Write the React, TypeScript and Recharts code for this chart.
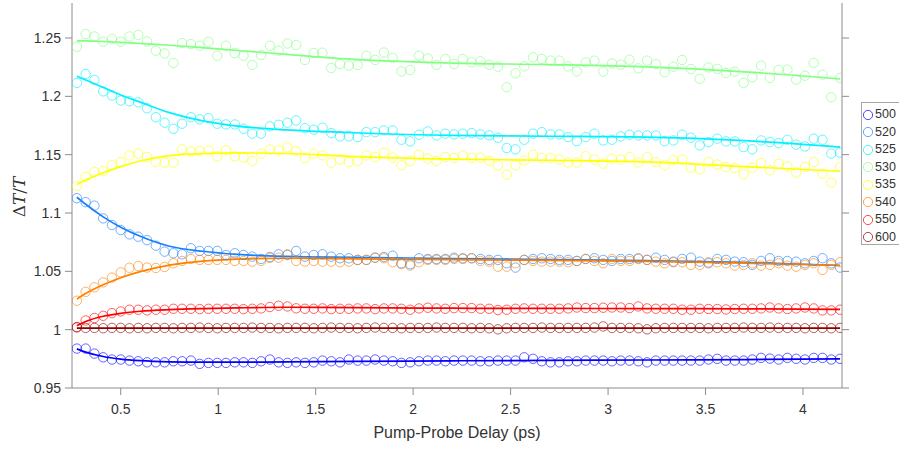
import React from 'react';
import { ComposedChart, Scatter, Line, XAxis, YAxis, Legend, Label } from 'recharts';

// Pump-probe delays (ps)
const delays = [
  0.275, 0.32, 0.365, 0.41, 0.455, 0.5, 0.545, 0.59, 0.635, 0.68,
  0.725, 0.77, 0.815, 0.86, 0.905, 0.95, 0.995, 1.04, 1.085, 1.13,
  1.175, 1.22, 1.265, 1.31, 1.355, 1.4, 1.445, 1.49, 1.535, 1.58,
  1.625, 1.67, 1.715, 1.76, 1.805, 1.85, 1.895, 1.94, 1.985, 2.03,
  2.075, 2.12, 2.165, 2.21, 2.255, 2.3, 2.345, 2.39, 2.435, 2.48,
  2.525, 2.57, 2.615, 2.66, 2.705, 2.75, 2.795, 2.84, 2.885, 2.93,
  2.975, 3.02, 3.065, 3.11, 3.155, 3.2, 3.245, 3.29, 3.335, 3.38,
  3.425, 3.47, 3.515, 3.56, 3.605, 3.65, 3.695, 3.74, 3.785, 3.83,
  3.875, 3.92, 3.965, 4.01, 4.055, 4.1, 4.145, 4.19,
];

const fitTimes = [0.275, 0.32, 0.41, 0.5, 0.6, 0.75, 0.92, 1.1, 1.35, 1.7, 2.2, 2.7, 3.2, 3.7, 4.19];

const d500 = [
  0.9838, 0.9838, 0.9795, 0.9763, 0.9744, 0.9744, 0.9735, 0.9729, 0.972, 0.972,
  0.972, 0.9729, 0.9729, 0.9735, 0.9707, 0.9715, 0.9715, 0.9715, 0.972, 0.972,
  0.9715, 0.9729, 0.9744, 0.972, 0.9715, 0.972, 0.9715, 0.972, 0.9735, 0.9729,
  0.972, 0.9744, 0.9735, 0.9735, 0.9744, 0.9735, 0.9729, 0.9715, 0.972, 0.9729,
  0.9735, 0.9735, 0.9729, 0.9735, 0.9735, 0.9735, 0.9729, 0.9729, 0.9735, 0.9735,
  0.9735, 0.9763, 0.975, 0.9729, 0.972, 0.972, 0.9729, 0.9729, 0.9735, 0.9735,
  0.9735, 0.9729, 0.9735, 0.9735, 0.9729, 0.972, 0.9735, 0.9735, 0.9735, 0.9735,
  0.9735, 0.9735, 0.9744, 0.975, 0.9735, 0.9735, 0.9735, 0.9744, 0.9758, 0.9752,
  0.9744, 0.9758, 0.975, 0.9744, 0.9758, 0.9758, 0.9744, 0.975,
];
const d520 = [
  1.1127, 1.1093, 1.1063, 1.0954, 1.0897, 1.0854, 1.0817, 1.0797, 1.0768, 1.072,
  1.0669, 1.0655, 1.0646, 1.0698, 1.0675, 1.0675, 1.0675, 1.064, 1.0655, 1.064,
  1.0626, 1.0606, 1.0623, 1.0646, 1.064, 1.0675, 1.0626, 1.064, 1.0646, 1.0626,
  1.0612, 1.0612, 1.0598, 1.0598, 1.0617, 1.0623, 1.0634, 1.0569, 1.0561, 1.0612,
  1.0606, 1.0606, 1.0606, 1.0617, 1.0612, 1.0612, 1.0606, 1.0598, 1.0598, 1.0569,
  1.0532, 1.0598, 1.0606, 1.0612, 1.0606, 1.0598, 1.0598, 1.0589, 1.0606, 1.0612,
  1.0598, 1.0589, 1.0606, 1.0606, 1.0612, 1.0598, 1.0617, 1.0598, 1.0583, 1.0606,
  1.0617, 1.0583, 1.0569, 1.0606, 1.0598, 1.0583, 1.0578, 1.0555, 1.0589, 1.0612,
  1.0589, 1.0589, 1.0583, 1.0569, 1.0589, 1.0612, 1.0569, 1.0532,
];
const d525 = [
  1.2115, 1.2192, 1.2141, 1.2043, 1.2007, 1.1964, 1.1958, 1.1949, 1.1898, 1.1821,
  1.1774, 1.1722, 1.1765, 1.1821, 1.1802, 1.1813, 1.1765, 1.1759, 1.1759, 1.1722,
  1.168, 1.168, 1.1742, 1.1756, 1.1774, 1.1793, 1.1727, 1.1714, 1.1731, 1.1685,
  1.1657, 1.1657, 1.1651, 1.1693, 1.1693, 1.1708, 1.1708, 1.1628, 1.1614, 1.1671,
  1.1699, 1.1665, 1.168, 1.1674, 1.168, 1.1685, 1.1674, 1.1665, 1.1645, 1.1557,
  1.1546, 1.1628, 1.168, 1.1693, 1.1674, 1.1674, 1.1651, 1.1616, 1.1651, 1.168,
  1.1622, 1.1628, 1.1657, 1.1671, 1.1665, 1.1665, 1.1665, 1.1616, 1.1622, 1.1671,
  1.1645, 1.158, 1.1608, 1.1637, 1.1614, 1.1614, 1.1565, 1.1546, 1.1622, 1.1608,
  1.1599, 1.1628, 1.1586, 1.1571, 1.1637, 1.1628, 1.1509, 1.1517,
];
const d530 = [
  1.2425, 1.2534, 1.2513, 1.2468, 1.2491, 1.2468, 1.2513, 1.2525, 1.247, 1.2391,
  1.2368, 1.2286, 1.2457, 1.2448, 1.2434, 1.2468, 1.2348, 1.2434, 1.2371, 1.2348,
  1.2269, 1.2354, 1.2434, 1.2391, 1.2453, 1.244, 1.2312, 1.2371, 1.2374, 1.2243,
  1.2277, 1.2263, 1.2269, 1.2348, 1.2312, 1.2376, 1.2329, 1.2214, 1.2226, 1.2348,
  1.2325, 1.2269, 1.232, 1.2277, 1.232, 1.2291, 1.23, 1.2271, 1.2254, 1.2078,
  1.2197, 1.2257, 1.2334, 1.232, 1.2306, 1.2306, 1.2257, 1.2214, 1.2291, 1.2306,
  1.2212, 1.2283, 1.2271, 1.2314, 1.224, 1.2306, 1.2277, 1.2206, 1.2254, 1.2312,
  1.2235, 1.2149, 1.2248, 1.2235, 1.2201, 1.2212, 1.2115, 1.2163, 1.2263, 1.2158,
  1.2226, 1.2229, 1.2143, 1.2177, 1.2286, 1.2186, 1.1992, 1.2158,
];
const d535 = [
  1.1232, 1.1309, 1.1352, 1.136, 1.1409, 1.1437, 1.1494, 1.1509, 1.148, 1.1437,
  1.1432, 1.1432, 1.1546, 1.1528, 1.1531, 1.1537, 1.1486, 1.1537, 1.1486, 1.1475,
  1.1446, 1.1509, 1.1543, 1.1537, 1.1565, 1.1531, 1.1471, 1.1509, 1.1494, 1.1432,
  1.1458, 1.1437, 1.1446, 1.1494, 1.148, 1.1517, 1.1475, 1.1409, 1.1446, 1.15,
  1.1466, 1.1446, 1.148, 1.1471, 1.1494, 1.1471, 1.1475, 1.1446, 1.1409, 1.1329,
  1.1409, 1.1452, 1.15, 1.1471, 1.1471, 1.1458, 1.1432, 1.1432, 1.1486, 1.1458,
  1.1423, 1.1466, 1.1458, 1.148, 1.1432, 1.148, 1.1437, 1.1409, 1.1452, 1.1458,
  1.1389, 1.1372, 1.1437, 1.1415, 1.1394, 1.1386, 1.1332, 1.1389, 1.1429, 1.1366,
  1.1423, 1.14, 1.1347, 1.1394, 1.1437, 1.1338, 1.1261, 1.1394,
];
const d540 = [
  1.0248, 1.0324, 1.0363, 1.0405, 1.0446, 1.0491, 1.0531, 1.0546, 1.0532, 1.0529,
  1.0538, 1.0569, 1.0589, 1.0606, 1.0598, 1.0598, 1.0598, 1.0598, 1.0589, 1.0589,
  1.0583, 1.0589, 1.0615, 1.0617, 1.0646, 1.0589, 1.0583, 1.0589, 1.0583, 1.0583,
  1.0578, 1.0583, 1.0598, 1.0598, 1.0617, 1.0612, 1.0578, 1.0561, 1.0549, 1.0578,
  1.0598, 1.0598, 1.0598, 1.0606, 1.0606, 1.0612, 1.0589, 1.0583, 1.054, 1.054,
  1.0569, 1.0598, 1.0589, 1.0583, 1.0583, 1.0583, 1.0578, 1.0589, 1.0606, 1.0589,
  1.0569, 1.0606, 1.0589, 1.0589, 1.0606, 1.0598, 1.0583, 1.0569, 1.0578, 1.0578,
  1.0555, 1.0555, 1.0578, 1.0578, 1.0569, 1.0549, 1.0555, 1.0569, 1.0549, 1.0555,
  1.0569, 1.0549, 1.054, 1.0555, 1.0569, 1.0512, 1.0555, 1.0578,
];
const d550 = [
  1.0023, 1.0079, 1.01, 1.0119, 1.0142, 1.0156, 1.0171, 1.0171, 1.0165, 1.0171,
  1.0171, 1.0179, 1.0179, 1.0179, 1.0176, 1.0179, 1.0179, 1.0179, 1.0179, 1.0176,
  1.0179, 1.0182, 1.0194, 1.0205, 1.0199, 1.0183, 1.0179, 1.0179, 1.0182, 1.0176,
  1.0179, 1.0179, 1.0182, 1.0182, 1.0176, 1.0182, 1.0182, 1.0179, 1.0171, 1.0182,
  1.0188, 1.0182, 1.0179, 1.0185, 1.0185, 1.0185, 1.0179, 1.0179, 1.0168, 1.0171,
  1.0179, 1.0182, 1.0179, 1.0179, 1.0179, 1.0179, 1.0182, 1.019, 1.0185, 1.0185,
  1.0188, 1.019, 1.019, 1.0185, 1.0199, 1.0182, 1.0179, 1.0179, 1.0179, 1.0171,
  1.0171, 1.0179, 1.0177, 1.0177, 1.0173, 1.0177, 1.0179, 1.0179, 1.0182, 1.019,
  1.0182, 1.0177, 1.0182, 1.019, 1.0182, 1.0165, 1.0165, 1.0171,
];
const d600 = [
  1.0019, 1.0015, 1.0015, 1.0012, 1.0015, 1.0015, 1.0012, 1.0015, 1.0012, 1.0015,
  1.0015, 1.0012, 1.0015, 1.0015, 1.0018, 1.0015, 1.0012, 1.0015, 1.0015, 1.0015,
  1.0018, 1.0015, 1.0015, 1.0012, 1.0015, 1.0015, 1.0015, 1.0012, 1.0015, 1.0018,
  1.0015, 1.0015, 1.0012, 1.0015, 1.0018, 1.0015, 1.0015, 1.0012, 1.0015, 1.0015,
  1.0015, 1.0018, 1.0015, 1.0015, 1.0015, 1.0012, 1.0015, 1.0012, 1.0003, 1.0012,
  1.0015, 1.0015, 1.0015, 1.0018, 1.0015, 1.0015, 1.0015, 1.0015, 1.0015, 1.0018,
  1.0028, 1.0015, 1.0015, 1.0015, 1.0012, 1.0003, 1.0012, 1.0015, 1.0015, 1.0015,
  1.0015, 1.0015, 1.0012, 1.0015, 1.0015, 1.0015, 1.0018, 1.0015, 1.0015, 1.0018,
  1.0015, 1.0015, 1.0015, 1.0012, 1.0015, 1.0015, 1.0012, 1.0015,
];

// Fitted curves evaluated at fitTimes
const f500 = [0.9835, 0.9808, 0.977, 0.9748, 0.9734, 0.9724, 0.9721, 0.9721, 0.9724, 0.9728, 0.9733, 0.9737, 0.974, 0.9744, 0.975];
const f520 = [1.1135, 1.1075, 1.0967, 1.0878, 1.08, 1.0715, 1.0672, 1.0645, 1.0628, 1.062, 1.061, 1.06, 1.0592, 1.0577, 1.055];
const f525 = [1.2172, 1.214, 1.2075, 1.2012, 1.195, 1.186, 1.179, 1.1745, 1.1712, 1.1688, 1.1665, 1.1658, 1.165, 1.162, 1.1565];
const f530 = [1.2476, 1.2475, 1.247, 1.2463, 1.2453, 1.2438, 1.2418, 1.2393, 1.236, 1.2316, 1.2285, 1.2272, 1.2252, 1.221, 1.215];
const f535 = [1.1244, 1.1282, 1.1345, 1.1398, 1.1446, 1.1492, 1.151, 1.1515, 1.151, 1.1484, 1.1462, 1.1452, 1.1438, 1.1397, 1.1358];
const f540 = [1.0262, 1.031, 1.0385, 1.0445, 1.0497, 1.0553, 1.0587, 1.0604, 1.0612, 1.0607, 1.06, 1.0594, 1.0585, 1.057, 1.0552];
const f550 = [1.0034, 1.007, 1.0115, 1.014, 1.0158, 1.0172, 1.0181, 1.0187, 1.0192, 1.0189, 1.0184, 1.0182, 1.0181, 1.0179, 1.0174];
const f600 = [1.0014, 1.0014, 1.0014, 1.0014, 1.0014, 1.0014, 1.0014, 1.0014, 1.0014, 1.0014, 1.0014, 1.0014, 1.0014, 1.0014, 1.0014];

const labels = ['500', '520', '525', '530', '535', '540', '550', '600'];
const colors = ['#0000ff', '#1a7fff', '#00f0ff', '#80ff80', '#ffff00', '#ff8000', '#ff0000', '#8b0000'];

const xTicks = [0.5, 1, 1.5, 2, 2.5, 3, 3.5, 4];
const yTicks = [0.95, 1, 1.05, 1.1, 1.15, 1.2, 1.25];
const xDomain = [0.25, 4.2];
const yDomain = [0.95, 1.28];

const seriesData = [d500, d520, d525, d530, d535, d540, d550, d600];
const seriesFits = [f500, f520, f525, f530, f535, f540, f550, f600];

const series = labels.map((name, k) => ({
  name,
  color: colors[k],
  points: delays.map((t, i) => ({ t, v: seriesData[k][i] })),
  fit: fitTimes.map((t, i) => ({ t, v: seriesFits[k][i] })),
}));

const AXIS = '#8c8c8c';
const TXT = '#333333';
const FONT = 'Liberation Sans, Arial, Helvetica, sans-serif';

const makeCircle = (color: string) => (props: any) => {
  const { cx, cy } = props;
  if (cx == null || cy == null) return <g />;
  return <circle cx={cx} cy={cy} r={4.7} fill="none" stroke={color} strokeOpacity={0.6} strokeWidth={1} />;
};

const renderLegend = () => (
  <div
    style={{
      width: 38,
      height: 143,
      boxSizing: 'border-box',
      borderTop: '1px solid #a8a8a8',
      borderLeft: '1px solid #a8a8a8',
      borderBottom: '1px solid #a8a8a8',
      background: '#ffffff',
      paddingTop: 3,
      overflow: 'hidden',
    }}
  >
    {series.map((s) => (
      <div key={s.name} style={{ height: 17.5, display: 'flex', alignItems: 'center', whiteSpace: 'nowrap' }}>
        <svg width={12} height={12} style={{ marginLeft: 0, flex: 'none' }}>
          <circle cx={6} cy={6} r={4.6} fill="none" stroke={s.color} strokeOpacity={0.7} strokeWidth={1} />
        </svg>
        <span style={{ fontFamily: FONT, fontSize: 12.5, color: TXT, marginLeft: 1, lineHeight: '13px' }}>{s.name}</span>
      </div>
    ))}
  </div>
);

const YLabel = () => (
  <text
    x={19}
    y={197}
    transform="rotate(-90, 19, 197)"
    textAnchor="middle"
    dominantBaseline="central"
    fill={TXT}
    fontSize={17}
    fontFamily="DejaVu Serif, Liberation Serif, serif"
  >
    <tspan>Δ</tspan>
    <tspan fontStyle="italic">T</tspan>
    <tspan>/</tspan>
    <tspan fontStyle="italic">T</tspan>
  </text>
);

export default function App() {
  return (
    <div style={{ position: 'absolute', left: 0, top: 0, width: 899, height: 449, background: '#fff', overflow: 'hidden' }}>
      <ComposedChart width={899} height={449} margin={{ top: 3, right: 0, bottom: 0, left: 0 }}>
        <XAxis
          dataKey="t"
          type="number"
          domain={xDomain}
          ticks={xTicks}
          allowDataOverflow
          height={61}
          tickSize={7}
          tickMargin={9}
          stroke={AXIS}
          tick={{ fill: TXT, fontSize: 14, fontFamily: FONT }}
        >
          <Label
            value="Pump-Probe Delay (ps)"
            position="insideBottom"
            offset={11}
            style={{ fill: TXT, fontSize: 16, fontFamily: FONT }}
          />
        </XAxis>
        <XAxis
          xAxisId="top"
          orientation="top"
          type="number"
          domain={xDomain}
          allowDataOverflow
          height={0}
          tick={false}
          tickLine={false}
          stroke={AXIS}
        />
        <YAxis
          type="number"
          domain={yDomain}
          ticks={yTicks}
          allowDataOverflow
          width={72}
          tickSize={7}
          tickMargin={4}
          stroke={AXIS}
          tick={{ fill: TXT, fontSize: 14, fontFamily: FONT }}
        >
          <Label content={<YLabel />} />
        </YAxis>
        <YAxis
          yAxisId="right"
          orientation="right"
          type="number"
          domain={yDomain}
          ticks={yTicks}
          allowDataOverflow
          width={57}
          tickSize={7}
          stroke={AXIS}
          tick={() => <g />}
        />
        {series.map((s) => (
          <Scatter
            key={'sc' + s.name}
            name={s.name}
            data={s.points}
            dataKey="v"
            shape={makeCircle(s.color)}
            isAnimationActive={false}
            legendType="none"
          />
        ))}
        {series.map((s) => (
          <Line
            key={'ln' + s.name}
            data={s.fit}
            dataKey="v"
            type="monotone"
            stroke={s.color}
            strokeWidth={1.7}
            dot={false}
            activeDot={false}
            isAnimationActive={false}
            legendType="none"
          />
        ))}
        <Legend
          layout="horizontal"
          align="center"
          verticalAlign="middle"
          content={renderLegend}
          wrapperStyle={{ position: 'absolute', left: 861, top: 102, width: 38, height: 143 }}
        />
      </ComposedChart>
    </div>
  );
}
